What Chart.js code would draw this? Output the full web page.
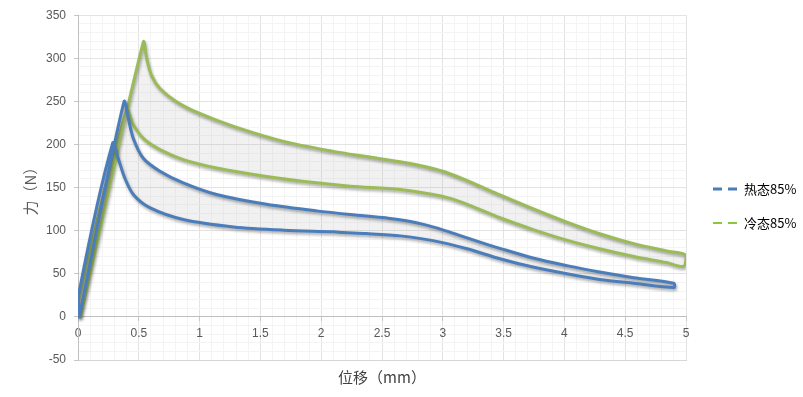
<!DOCTYPE html>
<html>
<head>
<meta charset="utf-8">
<script src="https://cdn.jsdelivr.net/npm/chart.js@4"></script>
<style>
html,body{margin:0;padding:0;background:#fff;}
#wrap{width:803px;height:397px;position:relative;}
</style>
</head>
<body>
<div id="wrap"><canvas id="c" width="803" height="397"></canvas></div>
<script>
// ---- data ----
const seriesNames = ['热态85%', '冷态85%'];
const xTitle = '位移（mm）';
const yTitle = '力（N）';

// 热态85% closed loop: loading line, upper branch, lower branch back, return line
const hotX = [0.01, 0.378, 0.414, 0.455, 0.537, 0.674, 0.866, 1.14, 1.55, 1.96, 2.37, 2.55, 2.7, 2.85, 3.0, 3.15, 3.3, 3.47, 3.75, 4.02, 4.29, 4.57, 4.9,
              4.9, 4.57, 4.29, 4.02, 3.75, 3.47, 3.2, 2.92, 2.65, 2.37, 2.18, 2.1, 1.69, 1.28, 0.866, 0.59, 0.455, 0.385, 0.33, 0.285, 0.0, 0.01];
const hotY = [0, 249.6, 230, 207, 184, 169, 155.5, 142, 130.6, 123, 117, 114.5, 111.5, 107, 101, 94, 87, 79.5, 68, 59.5, 52, 45.5, 39,
              34, 39, 43.5, 50, 57.5, 67.5, 79, 88.5, 94, 96.7, 97.9, 98.7, 100.6, 104.4, 113, 126.7, 142, 161, 184, 201.6, 22, 0];

// 冷态85% closed loop
const coldX = [0.02, 0.537, 0.565, 0.605, 0.674, 0.81, 1.0, 1.28, 1.69, 2.1, 2.37, 2.65, 2.85, 3.0, 3.15, 3.3, 3.47, 3.75, 4.02, 4.29, 4.57, 4.84, 5.0,
               4.98, 4.84, 4.57, 4.29, 4.02, 3.75, 3.47, 3.2, 3.06, 2.92, 2.65, 2.24, 1.96, 1.55, 1.14, 0.866, 0.674, 0.537, 0.455, 0.4, 0.0, 0.02];
const coldY = [0, 318.8, 299.6, 280, 265, 249.7, 236, 221, 203.6, 192, 186, 180, 174.5, 169, 161, 152, 141.5, 125, 110, 96.5, 85, 76.5, 71.5,
               58.7, 63, 70, 79, 89, 101, 115, 130.6, 137.5, 142, 147.9, 151.7, 155.5, 163, 172.8, 182.5, 194, 207, 222.8, 240, 16, 0];

const xMin = 0, xMax = 5, xMajor = 0.5, xMinor = 0.1;
const yMin = -50, yMax = 350, yMajor = 50, yMinor = 10;

const colors = ['#4a7dba', '#9bbb59'];
const legendColors = ['#4a7dba', '#8cc63f'];

function pts(xs, ys){ return xs.map((x,i)=>({x:x, y:ys[i]})); }

const isMajor = (v, step) => Math.abs(v/step - Math.round(v/step)) < 1e-6;

const shadowPlugin = {
  id: 'lineShadow',
  beforeDatasetDraw(chart){
    const c = chart.ctx; c.save();
    c.shadowColor = 'rgba(0,0,0,0.35)';
    c.shadowBlur = 3; c.shadowOffsetX = 1; c.shadowOffsetY = 2;
  },
  afterDatasetDraw(chart){ chart.ctx.restore(); }
};

const legendPlugin = {
  id: 'sideLegend',
  afterDraw(chart){
    const ctx = chart.ctx;
    const ys = [189, 223];
    const widths = [3, 2];
    chart.data.datasets.forEach((ds, i) => {
      ctx.save();
      ctx.strokeStyle = legendColors[i];
      ctx.lineWidth = widths[i];
      ctx.setLineDash([9, 6]);
      ctx.beginPath();
      ctx.moveTo(713, ys[i]); ctx.lineTo(738, ys[i]);
      ctx.stroke();
      ctx.setLineDash([]);
      ctx.fillStyle = '#000';
      ctx.font = '13px "Noto Sans CJK SC", "Liberation Sans", sans-serif';
      ctx.textBaseline = 'middle';
      ctx.textAlign = 'left';
      ctx.fillText(ds.label, 744, ys[i]);
      ctx.restore();
    });
  }
};

const tickFont = {family: '"Liberation Sans", Arial, sans-serif', size: 12};

new Chart(document.getElementById('c'), {
  type: 'line',
  data: {
    datasets: [
      {label: seriesNames[0], data: pts(hotX, hotY), borderColor: colors[0], borderWidth: 3,
       backgroundColor: 'rgba(170,170,170,0.17)', fill: 'shape', pointRadius: 0, tension: 0.3,
       borderJoinStyle: 'round', borderCapStyle: 'round', xAxisID: 'x', yAxisID: 'y'},
      {label: seriesNames[1], data: pts(coldX, coldY), borderColor: colors[1], borderWidth: 3,
       backgroundColor: 'rgba(170,170,170,0.17)', fill: 'shape', pointRadius: 0, tension: 0.3,
       borderJoinStyle: 'round', borderCapStyle: 'round', xAxisID: 'x', yAxisID: 'y'}
    ]
  },
  options: {
    responsive: false,
    animation: false,
    devicePixelRatio: 1,
    layout: {padding: {top: 13, right: 117, left: 0, bottom: 0}},
    plugins: {legend: {display: false}, tooltip: {enabled: false}},
    scales: {
      x: {
        type: 'linear', position: 'bottom', min: xMin, max: xMax,
        ticks: {display: false, stepSize: xMinor, autoSkip: false},
        grid: {drawTicks: false,
               color: c => isMajor(c.tick.value, xMajor) ? '#e3e3e3' : '#f4f4f4'},
        border: {display: true, color: '#d6d6d6'},
        title: {display: true, text: xTitle, color: '#404040',
                font: {family: '"Noto Sans CJK SC", sans-serif', size: 15},
                padding: {top: 0, bottom: 11}},
        afterFit: s => { s.height = 37; }
      },
      x0: {
        type: 'linear', position: {y: 0}, min: xMin, max: xMax,
        ticks: {stepSize: xMajor, color: '#595959', font: tickFont, padding: 6, maxRotation: 0,
                callback: v => String(v)},
        grid: {drawOnChartArea: false, drawTicks: true, tickLength: 4, tickColor: '#c8c8c8'},
        border: {display: true, color: '#bfbfbf'}
      },
      y: {
        type: 'linear', position: 'left', min: yMin, max: yMax,
        ticks: {stepSize: yMinor, autoSkip: false, color: '#595959', font: tickFont, padding: 8,
                callback: v => isMajor(v, yMajor) ? String(v) : ''},
        grid: {tickLength: 4,
               color: c => isMajor(c.tick.value, yMajor) ? '#e3e3e3' : '#f4f4f4',
               tickColor: c => isMajor(c.tick.value, yMajor) ? '#c8c8c8' : 'rgba(0,0,0,0)'},
        border: {display: true, color: '#bfbfbf'},
        title: {display: true, text: yTitle, color: '#595959',
                font: {family: '"Noto Sans CJK SC", sans-serif', size: 15},
                padding: {top: 21, bottom: 0}},
        afterFit: s => { s.width = 78; }
      }
    }
  },
  plugins: [shadowPlugin, legendPlugin]
});
</script>
</body>
</html>
